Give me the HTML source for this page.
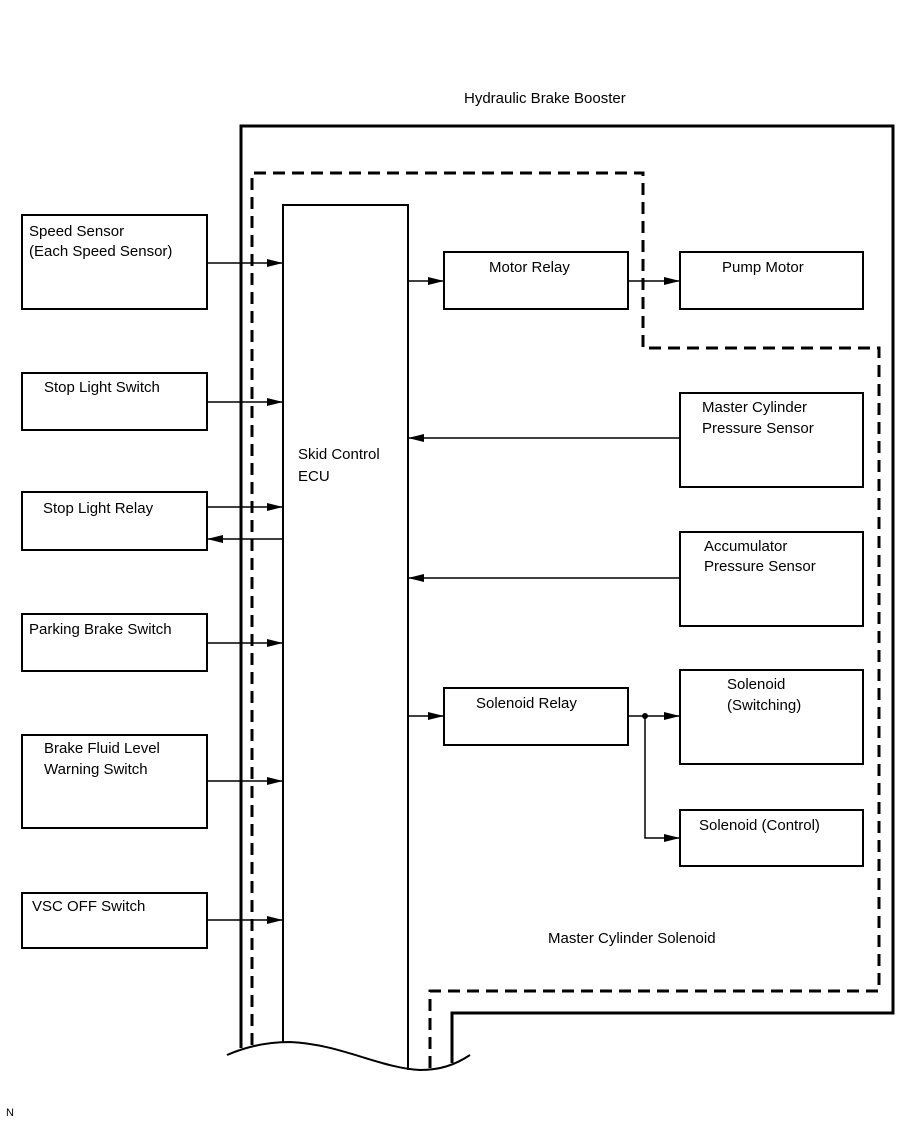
<!DOCTYPE html>
<html><head><style>
html,body{margin:0;padding:0;background:#fff;}
svg text{font-family:"Liberation Sans",Arial,sans-serif;font-size:15px;fill:#000;}
</style></head><body>
<svg width="907" height="1122" viewBox="0 0 907 1122" xmlns="http://www.w3.org/2000/svg">
<defs>
<marker id="a" markerWidth="16" markerHeight="8" refX="16" refY="4" orient="auto" markerUnits="userSpaceOnUse">
<path d="M0,0 L16,4 L0,8 z" fill="#000"/></marker>
</defs>
<rect width="907" height="1122" fill="#fff"/>
<text x="464" y="103">Hydraulic Brake Booster</text>
<path d="M241,1048 V126 H893 V1013 H452 V1063" fill="none" stroke="#000" stroke-width="3"/>
<path d="M252,1045 V173 H643 V348 H879 V991 H430 V1070" fill="none" stroke="#000" stroke-width="3" stroke-dasharray="12,7"/>
<path d="M283,1042 V205 H408 V1070" fill="none" stroke="#000" stroke-width="2"/>
<path d="M227,1055 C250,1045 270,1042 290,1042 C340,1044 380,1068 420,1070 C440,1070 455,1065 470,1055" fill="none" stroke="#000" stroke-width="2"/>
<rect x="0" y="0" width="0" height="0"/>
<text x="298" y="459">Skid Control</text>
<text x="298" y="481">ECU</text>
<g fill="none" stroke="#000" stroke-width="2">
<rect x="22" y="215" width="185" height="94"/>
<rect x="22" y="373" width="185" height="57"/>
<rect x="22" y="492" width="185" height="58"/>
<rect x="22" y="614" width="185" height="57"/>
<rect x="22" y="735" width="185" height="93"/>
<rect x="22" y="893" width="185" height="55"/>
<rect x="444" y="252" width="184" height="57"/>
<rect x="680" y="252" width="183" height="57"/>
<rect x="680" y="393" width="183" height="94"/>
<rect x="680" y="532" width="183" height="94"/>
<rect x="444" y="688" width="184" height="57"/>
<rect x="680" y="670" width="183" height="94"/>
<rect x="680" y="810" width="183" height="56"/>
</g>
<g stroke="#000" stroke-width="1.5" fill="none">
<line x1="207" y1="263" x2="283" y2="263" marker-end="url(#a)"/>
<line x1="207" y1="402" x2="283" y2="402" marker-end="url(#a)"/>
<line x1="207" y1="507" x2="283" y2="507" marker-end="url(#a)"/>
<line x1="283" y1="539" x2="207" y2="539" marker-end="url(#a)"/>
<line x1="207" y1="643" x2="283" y2="643" marker-end="url(#a)"/>
<line x1="207" y1="781" x2="283" y2="781" marker-end="url(#a)"/>
<line x1="207" y1="920" x2="283" y2="920" marker-end="url(#a)"/>
<line x1="408" y1="281" x2="444" y2="281" marker-end="url(#a)"/>
<line x1="628" y1="281" x2="680" y2="281" marker-end="url(#a)"/>
<line x1="680" y1="438" x2="408" y2="438" marker-end="url(#a)"/>
<line x1="680" y1="578" x2="408" y2="578" marker-end="url(#a)"/>
<line x1="408" y1="716" x2="444" y2="716" marker-end="url(#a)"/>
<line x1="628" y1="716" x2="680" y2="716" marker-end="url(#a)"/>
<polyline points="645,716 645,838 680,838" marker-end="url(#a)"/>
</g>
<circle cx="645" cy="716" r="3" fill="#000"/>
<text x="29" y="236">Speed Sensor</text>
<text x="29" y="256">(Each Speed Sensor)</text>
<text x="44" y="392">Stop Light Switch</text>
<text x="43" y="513">Stop Light Relay</text>
<text x="29" y="634">Parking Brake Switch</text>
<text x="44" y="753">Brake Fluid Level</text>
<text x="44" y="774">Warning Switch</text>
<text x="32" y="911">VSC OFF Switch</text>
<text x="489" y="272">Motor Relay</text>
<text x="722" y="272">Pump Motor</text>
<text x="702" y="412">Master Cylinder</text>
<text x="702" y="433">Pressure Sensor</text>
<text x="704" y="551">Accumulator</text>
<text x="704" y="571">Pressure Sensor</text>
<text x="476" y="708">Solenoid Relay</text>
<text x="727" y="689">Solenoid</text>
<text x="727" y="710">(Switching)</text>
<text x="699" y="830">Solenoid (Control)</text>
<text x="548" y="943">Master Cylinder Solenoid</text>
<text x="6" y="1116" style="font-size:11px">N</text>
</svg>
</body></html>
